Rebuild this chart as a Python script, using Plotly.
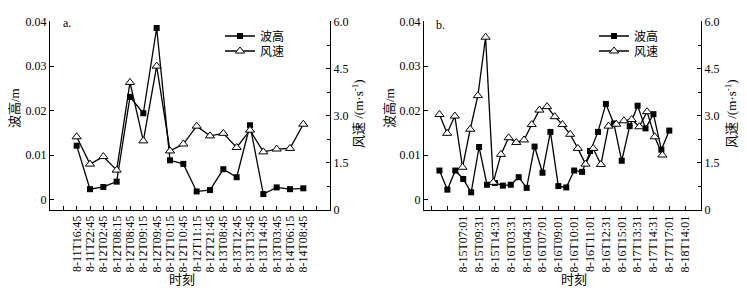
import plotly.graph_objects as go

# ---------------- data ----------------
labels_a = ["8-11T16:45", "8-11T22:45", "8-12T02:45", "8-12T08:15", "8-12T08:45",
            "8-12T09:15", "8-12T09:45", "8-12T10:15", "8-12T10:45", "8-12T11:15",
            "8-12T21:45", "8-13T08:45", "8-13T12:45", "8-13T13:45", "8-13T14:45",
            "8-13T03:45", "8-14T06:15", "8-14T08:45"]
wave_a = [0.0121, 0.0023, 0.0028, 0.0040, 0.0231, 0.0194, 0.0386, 0.0088, 0.0080,
          0.0018, 0.0021, 0.0068, 0.0050, 0.0167, 0.0012, 0.0027, 0.0023, 0.0025]
wind_a = [2.33, 1.46, 1.70, 1.27, 4.06, 2.20, 4.58, 1.88, 2.10,
          2.67, 2.36, 2.44, 1.99, 2.54, 1.85, 1.94, 1.96, 2.73]

labels_b = ["8-15T07:01", "8-15T09:31", "8-15T14:31", "8-16T03:31", "8-16T04:31",
            "8-16T07:01", "8-16T09:01", "8-16T10:01", "8-16T11:01", "8-16T12:31",
            "8-16T15:01", "8-17T13:31", "8-17T14:31", "8-17T17:01", "8-18T14:01"]
wave_b = [0.0065, 0.0022, 0.0065, 0.0046, 0.0016, 0.0118, 0.0033, 0.0037, 0.0031, 0.0033,
          0.0050, 0.0026, 0.0119, 0.0060, 0.0152, 0.0030, 0.0027, 0.0065, 0.0062, 0.0109,
          0.0152, 0.0215, 0.0171, 0.0087, 0.0165, 0.0211, 0.0160, 0.0192, 0.0112, 0.0155]
wind_b = [3.04, 2.44, 2.99, 1.36, 2.57, 3.64, 5.50, 0.88, 1.77, 2.30,
          2.15, 2.23, 2.72, 3.18, 3.29, 2.97, 2.72, 2.41, 1.96, 1.46,
          1.96, 1.45, 2.67, 2.73, 2.84, 2.88, 2.65, 3.13, 2.33, 1.75]

wave_ticks = [0, 0.01, 0.02, 0.03, 0.04]
wave_ticktext = ["0", "0.01", "0.02", "0.03", "0.04"]
wind_ticks = [0, 1.5, 3.0, 4.5, 6.0]
wind_ticktext = ["0", "1.5", "3.0", "4.5", "6.0"]

x_title = "时刻"
wave_title = "波高/m"
wind_title = "风速 /(m·s<sup>-1</sup>)"

# ---------------- positions / style ----------------
W, H = 747, 291
FONT = "Liberation Serif, Times New Roman, Noto Sans CJK SC, serif"

xa = [i + 2 for i in range(len(wave_a))]
tick_a = list(range(1, 21))
text_a = [""] + labels_a + [""]
xb = list(range(len(wave_b)))
WIND_B_STEP = 0.97
xb_wind = [i * WIND_B_STEP for i in range(len(wind_b))]
tick_b = list(range(-1, 32, 2))
text_b = ["", ""] + labels_b

y_top, y_bot = 21, 210
ydom = [1 - y_bot / H, 1 - y_top / H]
wave_zero_px, wave_px_per = 199.4, 4440.0
wave_range = [-(y_bot - wave_zero_px) / wave_px_per, (wave_zero_px - y_top) / wave_px_per]
wind_range = [0, 6.0 * (y_bot - y_top) / (y_bot - 21.5)]

line = dict(color="black", width=1.3)
sq = dict(symbol="square", size=6, color="black")
tri = dict(symbol="triangle-up", size=8, color="white", line=dict(color="black", width=1))

fig = go.Figure()
fig.add_trace(go.Scatter(x=xa, y=wave_a, name="波高", mode="lines+markers", line=line,
                         marker=sq, xaxis="x", yaxis="y", legend="legend", showlegend=True))
fig.add_trace(go.Scatter(x=xa, y=wind_a, name="风速", mode="lines+markers", line=line,
                         marker=tri, xaxis="x", yaxis="y2", legend="legend2", showlegend=True))
fig.add_trace(go.Scatter(x=xb, y=wave_b, name="波高", mode="lines+markers", line=line,
                         marker=sq, xaxis="x2", yaxis="y3", legend="legend3", showlegend=True))
fig.add_trace(go.Scatter(x=xb_wind, y=wind_b, name="风速", mode="lines+markers", line=line,
                         marker=tri, xaxis="x2", yaxis="y4", legend="legend4", showlegend=True))

common = dict(showline=True, linecolor="black", linewidth=1, showgrid=False, zeroline=False,
              ticks="inside", ticklen=4, tickcolor="black", tickwidth=1, automargin=False,
              tickfont=dict(family=FONT, size=12, color="black"))

def xaxis(domain, rng, tv, tt, anchor):
    return dict(domain=domain, range=rng, tickmode="array", tickvals=tv, ticktext=tt,
                tickangle=-90, anchor=anchor, **common)

def left_y(anchor):
    return dict(domain=ydom, range=wave_range, tickmode="array", tickvals=wave_ticks,
                ticktext=wave_ticktext, anchor=anchor, **common)

def right_y(over, anchor):
    return dict(range=wind_range, overlaying=over, side="right", anchor=anchor,
                tickmode="array", tickvals=wind_ticks, ticktext=wind_ticktext,
                minor=dict(dtick=0.75, tick0=0, ticks="inside", ticklen=3, tickcolor="black"),
                **common)

def leg(xpx, ypx):
    return dict(x=xpx / W, y=1 - ypx / H, xanchor="left", yanchor="middle",
                bgcolor="rgba(0,0,0,0)", font=dict(family=FONT, size=12),
                itemwidth=30, borderwidth=0)

def note(text, xpx, ypx, **kw):
    return dict(text=text, x=xpx / W, y=1 - ypx / H, xref="paper", yref="paper",
                showarrow=False, font=dict(family=FONT, size=kw.pop("size", 12)), **kw)

fig.update_layout(
    width=W, height=H,
    margin=dict(l=0, r=0, t=0, b=0, pad=0, autoexpand=False),
    paper_bgcolor="white", plot_bgcolor="white",
    showlegend=True,
    font=dict(family=FONT, size=12, color="black"),
    xaxis=xaxis([50 / W, 330 / W], [0, 21], tick_a, text_a, "y"),
    yaxis=left_y("x"),
    yaxis2=right_y("y", "x"),
    xaxis2=xaxis([424 / W, 701 / W], [-1.95, 33.0], tick_b, text_b, "y3"),
    yaxis3=left_y("x2"),
    yaxis4=right_y("y3", "x2"),
    legend=leg(220, 36),
    legend2=leg(220, 51),
    legend3=leg(594, 36),
    legend4=leg(594, 51),
    annotations=[
        note("a.", 61, 23, xanchor="left", yanchor="middle"),
        note("b.", 434, 25, xanchor="left", yanchor="middle"),
        note(x_title, 182, 279, xanchor="center", yanchor="middle", size=13),
        note(x_title, 574, 279, xanchor="center", yanchor="middle", size=13),
        note(wave_title, 14, 108, xanchor="center", yanchor="middle", textangle=-90, size=13),
        note(wave_title, 389, 108, xanchor="center", yanchor="middle", textangle=-90, size=13),
        note(wind_title, 358, 114, xanchor="center", yanchor="middle", textangle=-90, size=13),
        note(wind_title, 731, 114, xanchor="center", yanchor="middle", textangle=-90, size=13),
    ],
)

fig.write_html("out.html", config={"displayModeBar": False},
               post_script="document.body.style.margin='0';")
